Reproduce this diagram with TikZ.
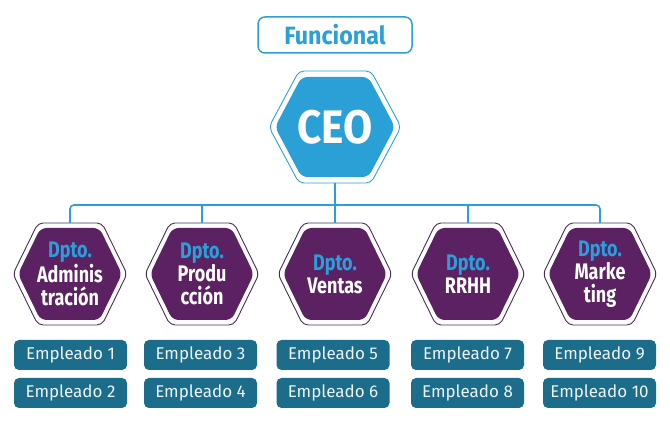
\documentclass[tikz,border=0pt]{standalone}
\usepackage{fontspec}
\setmainfont{Fira Sans}
\newfontfamily\funcfont[FakeStretch=0.93]{Fira Sans}
\newfontfamily\ceofont[FakeStretch=0.9]{Fira Sans}
\newfontfamily\deptfont[FakeStretch=0.8]{Fira Sans}
\definecolor{ceoblue}{RGB}{43,160,215}
\definecolor{dptblue}{RGB}{42,160,218}
\definecolor{deptpurple}{RGB}{92,33,98}
\definecolor{outpurple}{RGB}{75,42,87}
\definecolor{empteal}{RGB}{28,108,139}
\definecolor{emptext}{RGB}{236,244,247}
\newcommand\hexdraw[6]{\path[#6] ({#1-#3},{#2}) -- ({#1-#5},{#2-#4}) -- ({#1+#5},{#2-#4}) -- ({#1+#3},{#2}) -- ({#1+#5},{#2+#4}) -- ({#1-#5},{#2+#4}) -- cycle;}
\tikzset{
  conn/.style={draw=ceoblue, line width=1.6pt},
  titlebox/.style={draw=ceoblue, line width=1.5pt, rounded corners=7pt, fill=white,
    minimum width=154pt, minimum height=36pt, inner sep=0pt, text=ceoblue,
    font=\funcfont\bfseries\fontsize{25}{25}\selectfont},
  ceonode/.style={minimum width=132pt, minimum height=112pt, inner sep=0pt, text=white,
    font=\ceofont\bfseries\fontsize{47}{47}\selectfont},
  deptnode/.style={minimum width=114pt, minimum height=102pt, inner sep=0pt, text=white, align=center,
    font=\deptfont\bfseries\fontsize{22.5}{23}\selectfont},
  emp/.style={fill=empteal, rounded corners=5pt, minimum width=113pt, minimum height=30pt,
    inner sep=0pt, text=emptext, font=\fontsize{17}{17}\selectfont},
  hexline/.style={draw=#1, line width=0.9pt, rounded corners=5pt},
  hexfill/.style={fill=#1, rounded corners=6pt},
}
\begin{document}
\begin{tikzpicture}[x=1pt, y=-1pt]
\useasboundingbox (0,0) rectangle (670,430);
% title
\node[titlebox] (title) at (335,35) {Funcional};
% CEO hexagon
\hexdraw{335}{127}{66}{56}{36}{hexline=ceoblue}
\hexdraw{335}{127}{60}{50}{33.5}{hexfill=ceoblue}
\node[ceonode] (ceo) at (335,127) {CEO};
% department hexagons
\foreach \cx in {70,202,335,468,600}{
  \hexdraw{\cx}{274}{57}{51}{32}{hexline=outpurple}
  \hexdraw{\cx}{274}{52}{46}{29.5}{hexfill=deptpurple}
}
\node[deptnode] (d1) at (70,274) {\textcolor{dptblue}{Dpto.}\\Adminis\\tración};
\node[deptnode] (d2) at (202,274) {\textcolor{dptblue}{Dpto.}\\Produ\\cción};
\node[deptnode] (d3) at (335,274) {\textcolor{dptblue}{Dpto.}\\Ventas};
\node[deptnode] (d4) at (468,274) {\textcolor{dptblue}{Dpto.}\\RRHH};
\node[deptnode] (d5) at (600,274) {\textcolor{dptblue}{Dpto.}\\Marke\\ting};
% connectors
\coordinate (bus) at (335,205);
\draw[conn, rounded corners=4pt] (d1.north) -- (d1.north |- bus) -- (d5.north |- bus) -- (d5.north);
\draw[conn] (ceo.south) -- (bus);
\draw[conn] (d2.north) -- (d2.north |- bus);
\draw[conn] (d3.north) -- (d3.north |- bus);
\draw[conn] (d4.north) -- (d4.north |- bus);
% employees
\node[emp] (e1) at (70.5,355) {Empleado 1};
\node[emp] (e2) at (70.5,393) {Empleado 2};
\node[emp] (e3) at (200.5,355) {Empleado 3};
\node[emp] (e4) at (200.5,393) {Empleado 4};
\node[emp] (e5) at (333,355) {Empleado 5};
\node[emp] (e6) at (333,393) {Empleado 6};
\node[emp] (e7) at (467.5,355) {Empleado 7};
\node[emp] (e8) at (467.5,393) {Empleado 8};
\node[emp] (e9) at (599.5,355) {Empleado 9};
\node[emp] (e10) at (599.5,393) {Empleado 10};
\end{tikzpicture}
\end{document}
